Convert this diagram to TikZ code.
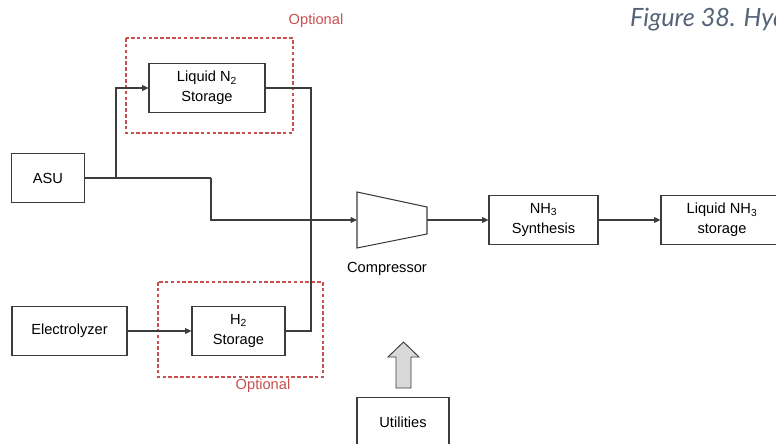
\documentclass[tikz,border=0pt]{standalone}
\usepackage{fontspec}
\setmainfont{Liberation Sans}
\newfontfamily\capfont{Lato}
\usetikzlibrary{arrows.meta,positioning,calc}
\definecolor{edge}{RGB}{60,60,60}
\definecolor{optred}{RGB}{200,80,80}
\definecolor{capcol}{RGB}{85,100,120}

\begin{document}
\begin{tikzpicture}[x=0.03cm,y=-0.03cm,font=\fontsize{12.5}{17}\selectfont,
  blk/.style={draw=edge,line width=0.9pt,align=center,inner sep=0pt,minimum height=1.48cm},
  arr/.style={draw=edge,line width=0.9pt,-{Triangle[length=5.5pt,width=5pt]}},
  ln/.style={draw=edge,line width=0.9pt},
  opt/.style={draw=optred,line width=0.9pt,dash pattern=on 3pt off 2pt},
  optlbl/.style={text=optred}]
\useasboundingbox (0,0) rectangle (776,443);
\clip (0,0) rectangle (776,443);
% blocks
\node[blk,minimum width=2.19cm] (asu) at (48,178) {ASU};
\node[blk,minimum width=3.45cm] (elec) at (69.5,331) {Electrolyzer};
\node[blk,minimum width=3.48cm] (ln2) at (207,88) {Liquid N\textsubscript{2}\\Storage};
\node[blk,minimum width=2.79cm] (h2) at (238.5,331) {H\textsubscript{2}\\Storage};
\node[blk,minimum width=3.27cm] (nh3) at (543.5,220) {NH\textsubscript{3}\\Synthesis};
\node[blk,minimum width=3.66cm] (lnh3) at (722,220) {Liquid NH\textsubscript{3}\\storage};
\node[blk,minimum width=2.76cm] (util) at (403,422) {Utilities};
% compressor
\draw[ln] (357,192) -- (427,207) -- (427,234) -- (357,248) -- cycle;
\coordinate (cin) at (357,220);
\coordinate (cout) at (427,220);
\node (comp) at (387,269) {Compressor};
% junctions
\coordinate (j1) at (116,178);
\coordinate (j2) at (211,178);
\coordinate (mix) at (311,220);
% optional boxes
\draw[opt] (126,38) rectangle (293,133);
\node[optlbl] (opt1) at (316,21) {Optional};
\draw[opt] (158,282) rectangle (323,377);
\node[optlbl] (opt2) at (263,386) {Optional};
% connectors
\draw[ln] (asu.east) -- (j2);
\draw[arr] (j2) |- (cin);
\draw[arr] (j1) |- (ln2.west);
\draw[ln] (ln2.east) -| (mix);
\draw[ln] (h2.east) -| (mix);
\draw[arr] (elec) -- (h2);
\draw[arr] (cout) -- (nh3);
\draw[arr] (nh3) -- (lnh3);
% utilities arrow
\draw[draw=edge,line width=0.8pt,fill=gray!30] (396,388) -- (396,357) -- (388,357) -- (403.5,342) -- (419,357) -- (411,357) -- (411,388) -- cycle;
% caption
\node[anchor=base west,text=capcol,font=\capfont\itshape\fontsize{21.5}{24}\selectfont] (cap) at (626,26) {Figure 38. Hydrogen};
\end{tikzpicture}
\end{document}
